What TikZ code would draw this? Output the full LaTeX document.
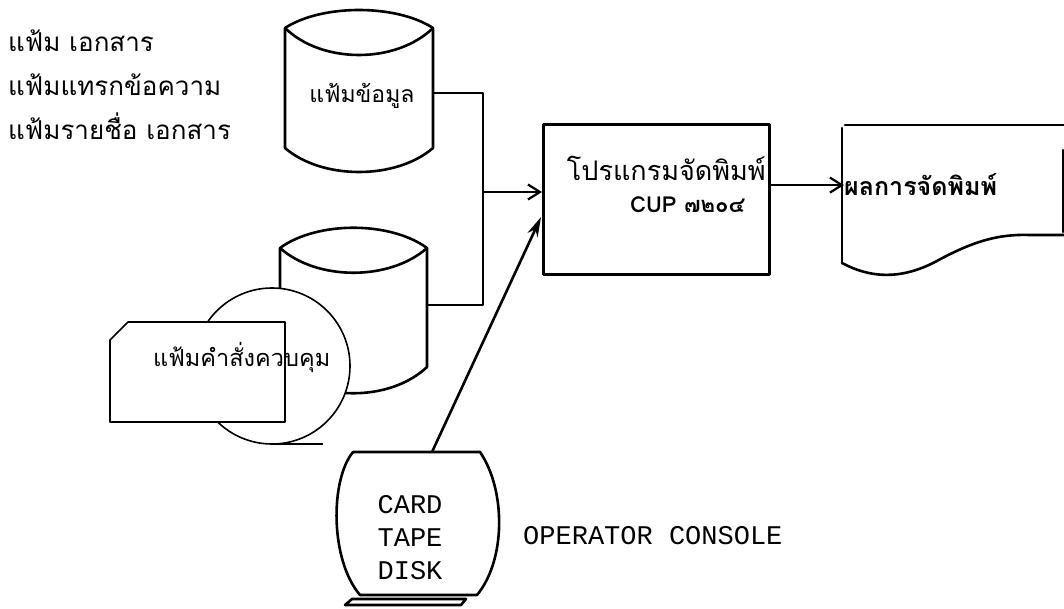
\documentclass[tikz,border=0pt]{standalone}
\usepackage{fontspec}
\newfontfamily\thaifont[Script=Thai]{Loma}
\setmonofont{Liberation Mono}
\usetikzlibrary{arrows.meta}

\tikzset{
  line/.style={line width=2.6pt, line join=round, line cap=round},
  faint/.style={line width=1.6pt, line join=round},
  flow/.style={line, -{Straight Barb[length=12pt,width=15pt,line width=2.2pt]}},
  feed/.style={line, -{Stealth[length=20pt,width=11pt]}},
  thaitext/.style={font=\thaifont\fontsize{26}{30}\selectfont, inner sep=0pt},
  typed/.style={font=\ttfamily\fontsize{27}{33}\selectfont, inner sep=0pt}
}

\begin{document}
\begin{tikzpicture}[x=1pt,y=-1pt]
\useasboundingbox (0,0) rectangle (1064,609);

% file names
\node[thaitext, anchor=base west] (doc1) at (8,52) {แฟ้ม เอกสาร};
\node[thaitext, anchor=base west] (doc2) at (8,96) {แฟ้มแทรกข้อความ};
\node[thaitext, anchor=base west] (doc3) at (8,140) {แฟ้มรายชื่อ เอกสาร};

% data file
\draw[line, fill=white] (285,28) -- (285,148) .. controls (322,180) and (396,180) .. (433,148)
  -- (433,28) .. controls (396,4) and (322,4) .. (285,28);
\draw[line] (285,28) .. controls (322,64) and (396,64) .. (433,28);
\node[thaitext, anchor=base, font=\thaifont\fontsize{23}{27}\selectfont] (datafile) at (362,103) {แฟ้มข้อมูล};
\coordinate (dataout) at (433,93);

% second file
\draw[line, fill=white] (280,248) -- (280,367) .. controls (317,402) and (390,402) .. (427,367)
  -- (427,248) .. controls (390,221) and (317,221) .. (280,248);
\draw[line] (280,248) .. controls (317,281) and (390,281) .. (427,248);
\coordinate (ctrlout) at (427,305);

% control file: tape and card
\draw[faint, fill=white] (272,366) circle (78);
\draw[faint] (272,444) -- (323,444);
\draw[faint, fill=white] (110,340) -- (128,322) -- (285,322) -- (285,422) -- (110,422) -- cycle;
\node[thaitext, anchor=base west, font=\thaifont\fontsize{23.5}{28}\selectfont] (ctrlfile) at (153,366) {แฟ้มคำสั่งควบคุม};

% program
\node[draw, line, minimum width=226pt, minimum height=150pt, anchor=north west] (prog) at (542,123) {};
\node[thaitext, anchor=base east, font=\thaifont\fontsize{27}{32}\selectfont] (progname) at (766,181) {โปรแกรมจัดพิมพ์};
\node[thaitext, anchor=base west, font=\thaifont\bfseries\fontsize{22}{26}\selectfont] (progno) at (630,213) {CUP ๗๒๐๔};

% joining lines
\coordinate (join) at (483,192);
\draw[line] (dataout) -- (483,93) -- (483,305) -- (ctrlout);
\draw[flow] (join) -- (prog.west |- join);

% printed output
\draw[line] (842,263) -- (842,128);
\draw[line] (845,125) -- (1064,125);
\draw[line] (1063,150) -- (1063,232);
\draw[line] (842,263) .. controls (870,278) and (900,280) .. (935,262)
  .. controls (975,240) and (1000,234) .. (1030,235) -- (1064,235);
\node[thaitext, anchor=base west, font=\thaifont\bfseries\fontsize{25}{30}\selectfont] (result) at (844,196) {ผลการจัดพิมพ์};
\draw[flow] (prog.east |- result.west) -- (result.west);

% console
\draw[line] (353,452) -- (480,452) .. controls (506,490) and (506,560) .. (477,595)
  -- (360,595) .. controls (330,560) and (330,480) .. (353,452);
\draw[line] (345,605) -- (352,599) -- (466,599) -- (461,605) -- cycle;
\node[typed, align=left] (media) at (410,538) {CARD\\TAPE\\DISK};
\node[typed, anchor=west] (console) at (523,536) {OPERATOR CONSOLE};
\coordinate (contop) at (432,452);
\coordinate (progin) at (541,217);
\draw[feed] (contop) -- (progin);
\end{tikzpicture}
\end{document}
